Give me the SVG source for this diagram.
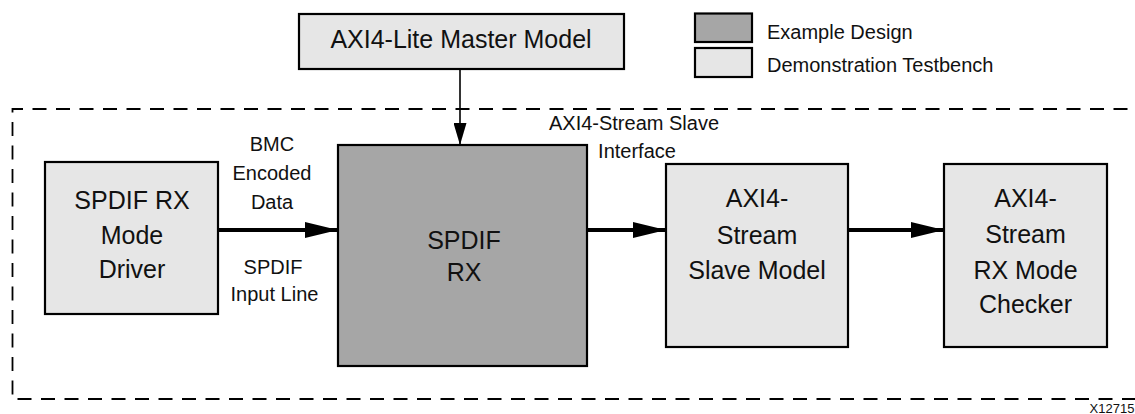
<svg xmlns="http://www.w3.org/2000/svg" width="1135" height="414" viewBox="0 0 1135 414">
<defs>
<style>
.box{stroke:#000;stroke-width:2.2}
.light{fill:#e6e6e6}
.dark{fill:#a6a6a6}
.t{font-family:"Liberation Sans",Arial,sans-serif;fill:#111;text-anchor:middle}
.big{font-size:25px}
.sm{font-size:20px}
.thick{stroke:#000;stroke-width:4;fill:none}
.thin{stroke:#000;stroke-width:1.6;fill:none}
</style>
<marker id="ah" markerWidth="33" markerHeight="16" refX="33" refY="8" orient="auto" markerUnits="userSpaceOnUse">
<path d="M0,0 L33,8 L0,16 Z" fill="#000"/>
</marker>
<marker id="ahs" markerWidth="22" markerHeight="13" refX="22" refY="6.5" orient="auto" markerUnits="userSpaceOnUse">
<path d="M0,0 L22,6.5 L0,13 Z" fill="#000"/>
</marker>
</defs>
<rect width="1135" height="414" fill="#fff"/>
<g id="boundary">
<path d="M1145,109 L12.5,109 L12.5,399 L1145,399" fill="none" stroke="#000" stroke-width="1.8" stroke-dasharray="14,9.5" stroke-dashoffset="6"/>
</g>
<g id="legend">
<rect class="box dark" x="695" y="13.5" width="57" height="28.5"/>
<rect class="box light" x="695" y="48" width="57" height="29"/>
<text class="t sm" x="767" y="39" style="text-anchor:start">Example Design</text>
<text class="t sm" x="767" y="72" style="text-anchor:start">Demonstration Testbench</text>
</g>
<g id="master">
<rect class="box light" x="299" y="14" width="325" height="55"/>
<text class="t big" x="461" y="48">AXI4-Lite Master Model</text>
</g>
<g id="driver">
<rect class="box light" x="45" y="162" width="173" height="152"/>
<text class="t big" x="132" y="209">SPDIF RX</text>
<text class="t big" x="132" y="244">Mode</text>
<text class="t big" x="132" y="278">Driver</text>
</g>
<g id="spdifrx">
<rect class="box dark" x="338" y="145" width="249" height="221"/>
<text class="t big" x="464" y="249">SPDIF</text>
<text class="t big" x="464" y="281">RX</text>
</g>
<g id="slave">
<rect class="box light" x="666" y="164" width="182" height="183"/>
<text class="t big" x="757" y="207">AXI4-</text>
<text class="t big" x="757" y="244">Stream</text>
<text class="t big" x="757" y="279">Slave Model</text>
</g>
<g id="checker">
<rect class="box light" x="944" y="164" width="163" height="183"/>
<text class="t big" x="1025.5" y="207">AXI4-</text>
<text class="t big" x="1025.5" y="243">Stream</text>
<text class="t big" x="1025.5" y="279">RX Mode</text>
<text class="t big" x="1025.5" y="313">Checker</text>
</g>
<g id="connectors">
<line class="thin" x1="460" y1="69" x2="460" y2="145" marker-end="url(#ahs)"/>
<line class="thick" x1="218" y1="230" x2="338" y2="230" marker-end="url(#ah)"/>
<line class="thick" x1="587" y1="230" x2="666" y2="230" marker-end="url(#ah)"/>
<line class="thick" x1="848" y1="230" x2="944" y2="230" marker-end="url(#ah)"/>
</g>
<g id="labels">
<text class="t sm" x="272" y="151">BMC</text>
<text class="t sm" x="272" y="180">Encoded</text>
<text class="t sm" x="272" y="209">Data</text>
<text class="t sm" x="273" y="274">SPDIF</text>
<text class="t sm" x="274.5" y="301">Input Line</text>
<text class="t sm" x="634" y="130">AXI4-Stream Slave</text>
<text class="t sm" x="637" y="158">Interface</text>
<text class="t" x="1112" y="413" style="font-size:13px">X12715</text>
</g>
</svg>
